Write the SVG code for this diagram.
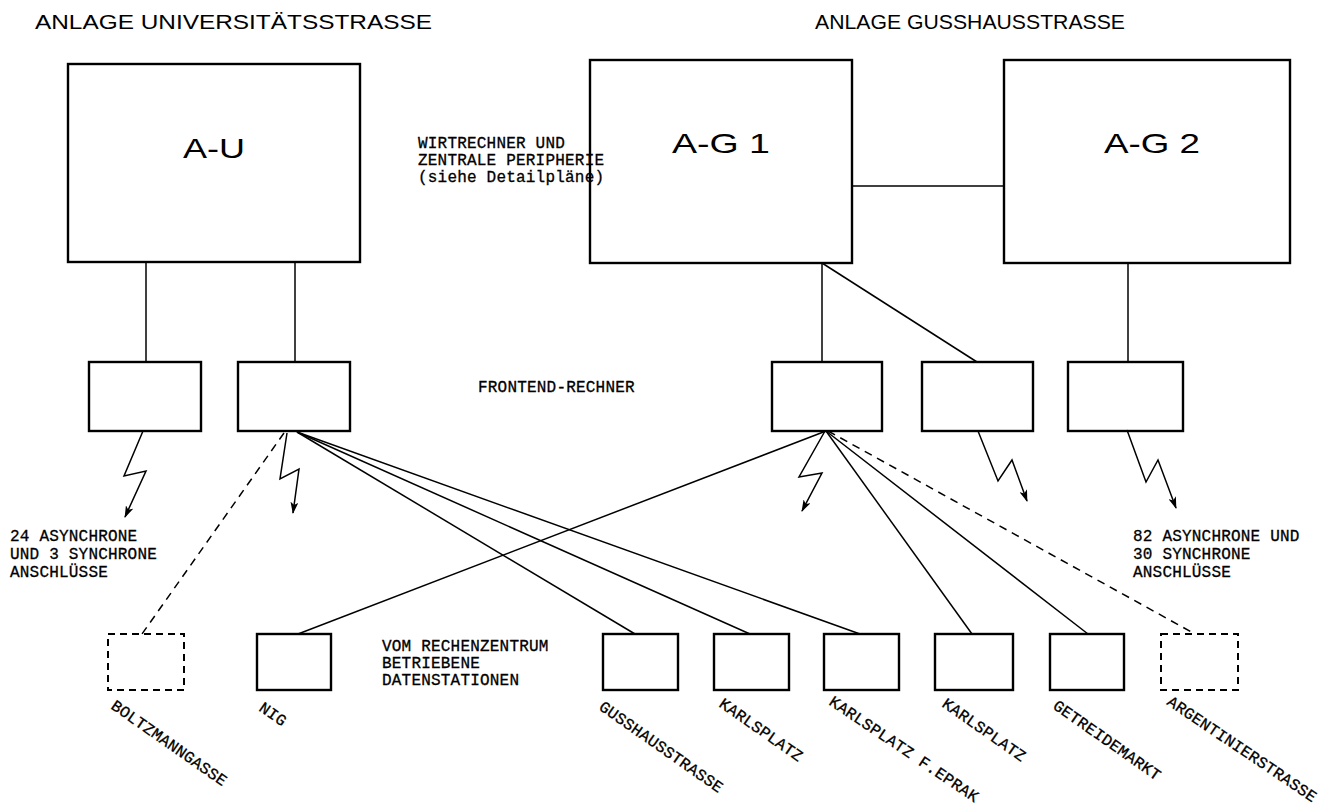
<svg xmlns="http://www.w3.org/2000/svg" width="1338" height="806" viewBox="0 0 1338 806">
<style>
.bg{fill:#fff}
.box{fill:none;stroke:#000;stroke-width:2.4}
.dbox{fill:none;stroke:#000;stroke-width:2;stroke-dasharray:7 5}
.ln{fill:none;stroke:#000;stroke-width:1.5}
.dl{fill:none;stroke:#000;stroke-width:1.5;stroke-dasharray:8 6}
.zz{fill:none;stroke:#000;stroke-width:1.5}
.title{font-family:"Liberation Sans",Arial,sans-serif;font-size:21px;fill:#000}
.big{font-family:"Liberation Sans",Arial,sans-serif;font-size:28px;fill:#000}
.mono{font-family:"Liberation Mono","DejaVu Sans Mono",monospace;font-size:16px;fill:#000;stroke:#000;stroke-width:0.3;letter-spacing:0.2px}
</style>
<defs>
<marker id="ah" markerUnits="userSpaceOnUse" markerWidth="12" markerHeight="8" refX="11" refY="4" orient="auto">
<path d="M0,0 L12,4 L0,8 L3,4 z" fill="#000"/>
</marker>
</defs>
<rect class="bg" x="0" y="0" width="1338" height="806"/>

<text class="title" x="35" y="29" textLength="397" lengthAdjust="spacingAndGlyphs">ANLAGE UNIVERSITÄTSSTRASSE</text>
<text class="title" x="815" y="29" textLength="310" lengthAdjust="spacingAndGlyphs">ANLAGE GUSSHAUSSTRASSE</text>

<g id="connectors">
<line class="ln" x1="146" y1="262" x2="146" y2="362"/>
<line class="ln" x1="295" y1="262" x2="295" y2="362"/>
<line class="ln" x1="852" y1="186" x2="1004" y2="186"/>
<line class="ln" x1="822" y1="263" x2="822" y2="362"/>
<line class="ln" x1="822" y1="263" x2="977" y2="362"/>
<line class="ln" x1="1128" y1="263" x2="1128" y2="362"/>
<polyline class="zz" points="143,431 124,476 146,471 125,517" marker-end="url(#ah)"/>
<polyline class="zz" points="287,433 280,479 299,469 293,513" marker-end="url(#ah)"/>
<polyline class="zz" points="825,431 799,477 822,473 802,511" marker-end="url(#ah)"/>
<polyline class="zz" points="978,431 998,481 1012,460 1027,501" marker-end="url(#ah)"/>
<polyline class="zz" points="1127,430 1146,482 1158,460 1176,508" marker-end="url(#ah)"/>
<line class="dl" x1="284" y1="433" x2="142" y2="634"/>
<line class="dl" x1="828" y1="431" x2="1195" y2="634"/>
<line class="ln" x1="297" y1="432" x2="635" y2="634"/>
<line class="ln" x1="297" y1="432" x2="750" y2="634"/>
<line class="ln" x1="297" y1="432" x2="860" y2="634"/>
<line class="ln" x1="826" y1="431" x2="298" y2="634"/>
<line class="ln" x1="826" y1="431" x2="972" y2="634"/>
<line class="ln" x1="826" y1="431" x2="1088" y2="634"/>
</g>

<g id="AU">
<rect class="box" x="68" y="64" width="292" height="198"/>
<text class="big" x="183" y="158" textLength="62" lengthAdjust="spacingAndGlyphs">A-U</text>
</g>
<g id="AG1">
<rect class="box" x="590" y="60" width="262" height="203"/>
<text class="big" x="672" y="153" textLength="98" lengthAdjust="spacingAndGlyphs">A-G 1</text>
</g>
<g id="AG2">
<rect class="box" x="1004" y="60" width="286" height="203"/>
<text class="big" x="1104" y="153" textLength="96" lengthAdjust="spacingAndGlyphs">A-G 2</text>
</g>

<g id="note-wirt">
<text class="mono" x="418" y="148">WIRTRECHNER UND</text>
<text class="mono" x="418" y="165">ZENTRALE PERIPHERIE</text>
<text class="mono" x="418" y="182">(siehe Detailpläne)</text>
</g>

<g id="FE1"><rect class="box" x="89" y="362" width="112" height="69"/></g>
<g id="FE2"><rect class="box" x="238" y="362" width="112" height="69"/></g>
<g id="FE3"><rect class="box" x="772" y="362" width="110" height="69"/></g>
<g id="FE4"><rect class="box" x="922" y="362" width="111" height="69"/></g>
<g id="FE5"><rect class="box" x="1068" y="362" width="115" height="69"/></g>

<text class="mono" x="478" y="392">FRONTEND-RECHNER</text>

<g id="note-left">
<text class="mono" x="10" y="541">24 ASYNCHRONE</text>
<text class="mono" x="10" y="559">UND 3 SYNCHRONE</text>
<text class="mono" x="10" y="577">ANSCHLÜSSE</text>
</g>
<g id="note-right">
<text class="mono" x="1133" y="541">82 ASYNCHRONE UND</text>
<text class="mono" x="1133" y="559">30 SYNCHRONE</text>
<text class="mono" x="1133" y="577">ANSCHLÜSSE</text>
</g>
<g id="note-vom">
<text class="mono" x="382" y="651">VOM RECHENZENTRUM</text>
<text class="mono" x="382" y="668">BETRIEBENE</text>
<text class="mono" x="382" y="685">DATENSTATIONEN</text>
</g>

<g id="boltzmanngasse">
<rect class="dbox" x="108" y="634" width="76" height="56"/>
<text class="mono" transform="translate(110,708) rotate(35)">BOLTZMANNGASSE</text>
</g>
<g id="nig">
<rect class="box" x="257" y="634" width="74" height="56"/>
<text class="mono" transform="translate(258,710) rotate(35)">NIG</text>
</g>
<g id="gusshausstrasse">
<rect class="box" x="603" y="634" width="75" height="56"/>
<text class="mono" transform="translate(598,709) rotate(35)">GUSSHAUSSTRASSE</text>
</g>
<g id="karlsplatz1">
<rect class="box" x="714" y="634" width="75" height="56"/>
<text class="mono" transform="translate(718,706) rotate(35)">KARLSPLATZ</text>
</g>
<g id="karlsplatz-eprak">
<rect class="box" x="824" y="634" width="75" height="56"/>
<text class="mono" transform="translate(828,704) rotate(34)">KARLSPLATZ F.EPRAK</text>
</g>
<g id="karlsplatz2">
<rect class="box" x="935" y="634" width="78" height="56"/>
<text class="mono" transform="translate(941,706) rotate(35)">KARLSPLATZ</text>
</g>
<g id="getreidemarkt">
<rect class="box" x="1050" y="634" width="74" height="56"/>
<text class="mono" transform="translate(1052,708) rotate(35)">GETREIDEMARKT</text>
</g>
<g id="argentinierstrasse">
<rect class="dbox" x="1161" y="634" width="77" height="56"/>
<text class="mono" transform="translate(1166,704) rotate(34)">ARGENTINIERSTRASSE</text>
</g>
</svg>
